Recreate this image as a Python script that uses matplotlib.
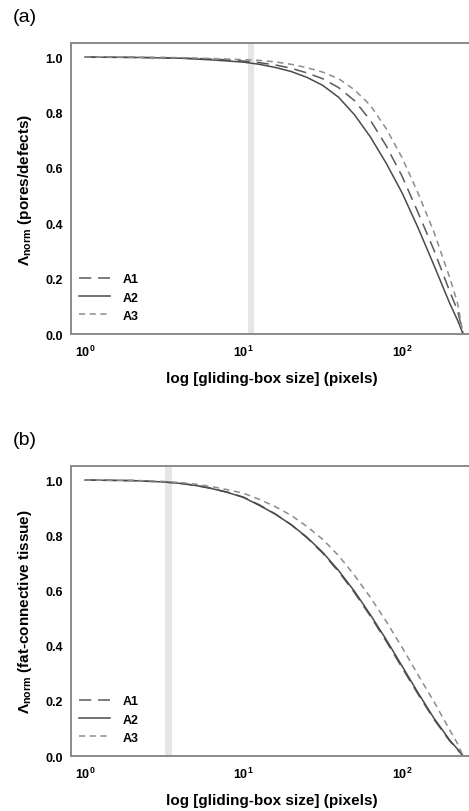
import numpy as np
import matplotlib
matplotlib.use('Agg')
import matplotlib.pyplot as plt
from matplotlib.ticker import FixedLocator, NullLocator, FormatStrFormatter

plt.rcParams['font.family'] = ['Liberation Sans', 'DejaVu Sans']
plt.rcParams['font.weight'] = 'bold'
plt.rcParams['axes.labelweight'] = 'bold'
plt.rcParams['mathtext.fontset'] = 'custom'
plt.rcParams['mathtext.rm'] = 'Liberation Sans'
plt.rcParams['mathtext.it'] = 'Liberation Sans:italic:bold'
plt.rcParams['mathtext.bf'] = 'Liberation Sans:bold'
plt.rcParams['mathtext.default'] = 'bf'

# gliding-box sizes (pixels)
box_size = [1, 2, 3.16, 3.98, 5.01, 6.31, 7.94, 10, 12.6, 15.8, 20, 25.1, 31.6, 39.8,
            50.1, 63.1, 79.4, 100, 125.9, 158.5, 199.5, 223.9, 242.7]

# (a) pores/defects
a_A1 = [1.0, 0.999, 0.998, 0.997, 0.995, 0.993, 0.990, 0.986, 0.980, 0.972, 0.960, 0.943,
        0.922, 0.890, 0.843, 0.772, 0.680, 0.570, 0.440, 0.305, 0.155, 0.085, 0.0]
a_A2 = [1.0, 0.999, 0.997, 0.996, 0.993, 0.990, 0.986, 0.982, 0.974, 0.963, 0.948, 0.927,
        0.898, 0.855, 0.792, 0.712, 0.617, 0.510, 0.385, 0.250, 0.112, 0.050, 0.0]
a_A3 = [1.0, 1.0, 0.999, 0.998, 0.997, 0.995, 0.993, 0.991, 0.988, 0.983, 0.974, 0.962,
        0.946, 0.922, 0.882, 0.826, 0.742, 0.637, 0.510, 0.370, 0.205, 0.112, 0.0]

# (b) fat-connective tissue
b_A1 = [1.0, 0.998, 0.993, 0.988, 0.981, 0.970, 0.956, 0.938, 0.910, 0.878, 0.838, 0.791,
        0.735, 0.668, 0.592, 0.507, 0.416, 0.320, 0.225, 0.134, 0.055, 0.023, 0.0]
b_A2 = [1.0, 0.998, 0.993, 0.988, 0.980, 0.969, 0.955, 0.937, 0.908, 0.877, 0.838, 0.793,
        0.738, 0.672, 0.597, 0.512, 0.422, 0.326, 0.230, 0.138, 0.058, 0.025, 0.0]
b_A3 = [1.0, 0.999, 0.995, 0.991, 0.985, 0.976, 0.965, 0.952, 0.930, 0.904, 0.872, 0.832,
        0.785, 0.726, 0.655, 0.575, 0.488, 0.394, 0.295, 0.198, 0.095, 0.045, 0.0]

# shaded band (box size range)
band_a = (10.6, 11.7)
band_b = (3.2, 3.55)

panels = [
    ('(a)', a_A1, a_A2, a_A3, band_a, r'$\mathit{\Lambda}_{\mathrm{norm}}$ (pores/defects)'),
    ('(b)', b_A1, b_A2, b_A3, band_b, r'$\mathit{\Lambda}_{\mathrm{norm}}$ (fat-connective tissue)'),
]

fig = plt.figure(figsize=(4.69, 8.12), dpi=100)
axes_pos = [[0.1514, 0.5874, 0.857, 0.3584], [0.1514, 0.0677, 0.857, 0.3572]]
tag_y = [0.979, 0.458]

for i, (tag, A1, A2, A3, band, ylab) in enumerate(panels):
    ax = fig.add_axes(axes_pos[i])
    ax.axvspan(band[0], band[1], color='#e6e6e6', lw=0, zorder=0)
    ax.plot(box_size, A1, color='#5a5a5a', lw=1.1, dashes=(8, 4.5), label='A1')
    ax.plot(box_size, A2, color='#4a4a4a', lw=1.1, label='A2')
    ax.plot(box_size, A3, color='#8c8c8c', lw=1.1, dashes=(4, 3), label='A3')
    ax.set_xscale('log')
    ax.set_xlim(0.816, 280)
    ax.set_ylim(0, 1.051)
    ax.xaxis.set_major_locator(FixedLocator([1, 10, 100]))
    ax.xaxis.set_minor_locator(NullLocator())
    ax.set_xticks([1, 10, 100])
    ax.set_xticklabels([r'$10^{0}$', r'$10^{1}$', r'$10^{2}$'])
    ax.set_yticks([0, 0.2, 0.4, 0.6, 0.8, 1.0])
    ax.yaxis.set_major_formatter(FormatStrFormatter('%.1f'))
    ax.tick_params(length=0, labelsize=9)
    ax.tick_params(axis='x', pad=7)
    ax.tick_params(axis='y', pad=6)
    for s in ('top', 'bottom', 'left'):
        ax.spines[s].set_color('#8a8a8a')
        ax.spines[s].set_linewidth(1.4)
    ax.spines['right'].set_visible(False)
    ax.set_xlabel('log [gliding-box size] (pixels)', fontsize=11, labelpad=9)
    ax.set_ylabel(ylab, fontsize=11, labelpad=8)
    leg = ax.legend(loc='lower left', bbox_to_anchor=(0.02, 0.042), frameon=False,
                    fontsize=9, handlelength=2.5, handletextpad=1.0,
                    labelspacing=0.5, borderpad=0, borderaxespad=0)
    fig.text(0.028, tag_y[i], tag, fontsize=14, fontweight='normal', va='center', ha='left')

fig.savefig('out.png', dpi=100)
